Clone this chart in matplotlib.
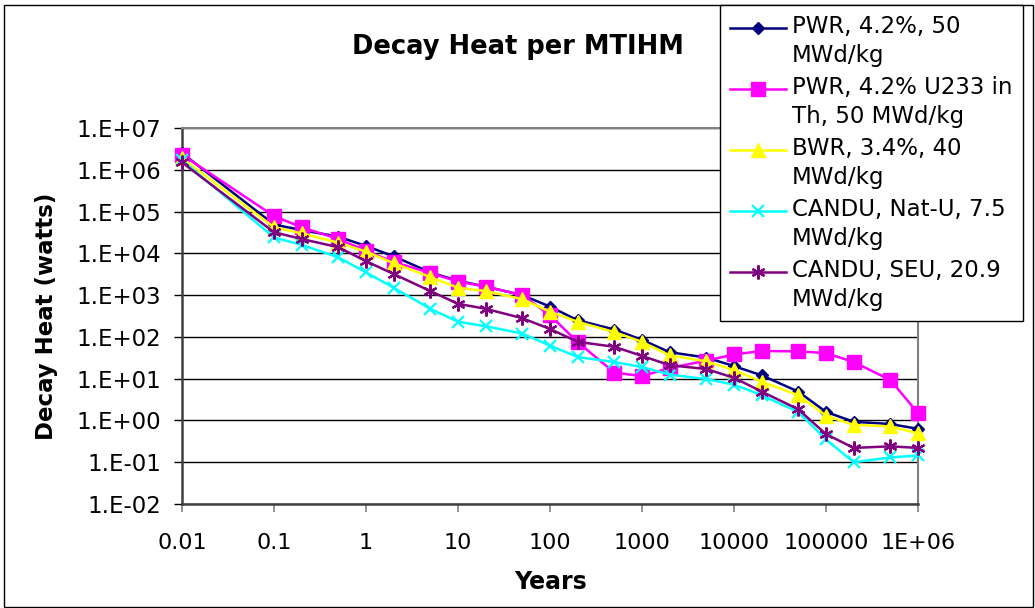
import matplotlib
matplotlib.use("Agg")
import matplotlib.pyplot as plt
from matplotlib.patches import Rectangle
from matplotlib.legend_handler import HandlerLine2D

# ---- data ----
years = [0.01, 0.1, 0.2, 0.5, 1, 2, 5, 10, 20, 50, 100, 200, 500, 1000,
         2000, 5000, 1e4, 2e4, 5e4, 1e5, 2e5, 5e5, 1e6]

pwr = [2.5e6, 4.9e4, 3.6e4, 2.5e4, 1.5e4, 8.5e3, 3.5e3, 2.2e3, 1.6e3, 1.0e3,
       5.3e2, 2.5e2, 1.5e2, 8.5e1, 4.3e1, 3.2e1, 2.0e1, 1.2e1, 4.9, 1.6,
       0.93, 0.82, 0.63]
pwr_th = [2.3e6, 7.8e4, 4.2e4, 2.2e4, 1.15e4, 6.2e3, 3.4e3, 2.1e3, 1.6e3, 1.0e3,
          3.3e2, 7.5e1, 1.4e1, 1.15e1, 1.8e1, 2.7e1, 3.8e1, 4.6e1, 4.5e1, 4.1e1,
          2.5e1, 9.3, 1.5]
bwr = [1.9e6, 4.2e4, 3.0e4, 1.8e4, 1.1e4, 5.8e3, 2.7e3, 1.5e3, 1.25e3, 8.0e2,
       4.0e2, 2.3e2, 1.3e2, 7.6e1, 3.6e1, 2.6e1, 1.6e1, 8.5, 4.0, 1.3,
       0.78, 0.72, 0.49]
candu_nat = [1.7e6, 2.4e4, 1.6e4, 8.0e3, 3.5e3, 1.5e3, 4.7e2, 2.3e2, 1.8e2, 1.2e2,
             6.2e1, 3.3e1, 2.5e1, 1.9e1, 1.25e1, 9.8, 7.2, 4.0, 1.6, 0.35,
             0.10, 0.13, 0.145]
candu_seu = [1.5e6, 3.2e4, 2.2e4, 1.4e4, 6.5e3, 3.2e3, 1.25e3, 6.2e2, 4.7e2, 2.8e2,
             1.55e2, 7.6e1, 5.8e1, 3.5e1, 2.1e1, 1.7e1, 1.05e1, 4.9, 1.85, 0.47,
             0.22, 0.24, 0.22]

labels = ["PWR, 4.2%, 50\nMWd/kg",
          "PWR, 4.2% U233 in\nTh, 50 MWd/kg",
          "BWR, 3.4%, 40\nMWd/kg",
          "CANDU, Nat-U, 7.5\nMWd/kg",
          "CANDU, SEU, 20.9\nMWd/kg"]

x_ticks = [0.01, 0.1, 1, 10, 100, 1000, 1e4, 1e5, 1e6]
x_tick_labels = ["0.01", "0.1", "1", "10", "100", "1000", "10000", "100000", "1E+06"]
y_ticks = [1e-2, 1e-1, 1e0, 1e1, 1e2, 1e3, 1e4, 1e5, 1e6, 1e7]
y_tick_labels = ["1.E-02", "1.E-01", "1.E+00", "1.E+01", "1.E+02",
                 "1.E+03", "1.E+04", "1.E+05", "1.E+06", "1.E+07"]

title = "Decay Heat per MTIHM"
xlabel = "Years"
ylabel = "Decay Heat (watts)"

# ---- figure ----
plt.rcParams['font.family'] = ['DejaVu Sans']
W, H = 1035, 608
fig = plt.figure(figsize=(W / 100, H / 100), dpi=100)
fig.patch.set_facecolor("white")

L, R, T, B = 182, 918, 128, 504
ax = fig.add_axes([L / W, 1 - B / H, (R - L) / W, (B - T) / H])

series = [
    (pwr, "#000080", dict(marker="D", ms=6)),
    (pwr_th, "#FF00FF", dict(marker="s", ms=9.5)),
    (bwr, "#FFFF00", dict(marker="^", ms=9.5)),
    (candu_nat, "#00FFFF", dict(marker="x", ms=9, mew=1.6)),
    (candu_seu, "#800080", dict(marker=(6, 2, 0), ms=10, mew=1.6)),
]
handles = []
for vals, col, mk in series:
    ln, = ax.plot(years, vals, color=col, lw=1.8, mfc=col, mec=col,
                  clip_on=False, zorder=3, **mk)
    handles.append(ln)

ax.set_xscale("log")
ax.set_yscale("log")
ax.set_xlim(0.01, 1e6)
ax.set_ylim(1e-2, 1e7)
ax.minorticks_off()
ax.set_xticks(x_ticks)
ax.set_xticklabels(x_tick_labels, fontsize=16)
ax.set_yticks(y_ticks)
ax.set_yticklabels(y_tick_labels, fontsize=16.5)
ax.minorticks_off()
ax.tick_params(axis="x", which="major", direction="out", length=6,
               width=1.2, color="#808080", pad=15)
ax.tick_params(axis="y", which="major", direction="out", length=6,
               width=1.0, color="black", pad=9)
for lab in ax.get_xticklabels():
    lab.set_fontsize(16)
for lab in ax.get_yticklabels():
    lab.set_fontsize(16.5)
ax.yaxis.grid(True, color="black", lw=1.0)
ax.set_axisbelow(True)

for s in ["top", "right"]:
    ax.spines[s].set_color("#808080")
    ax.spines[s].set_linewidth(1.5)
for s in ["left", "bottom"]:
    ax.spines[s].set_color("#404040")
    ax.spines[s].set_linewidth(1.8)

# titles
fig.text(518 / W, 1 - 47 / H, title, ha="center", va="center",
         fontsize=18.5, fontweight="bold")
fig.text(551 / W, 1 - 582 / H, xlabel, ha="center", va="center",
         fontsize=17, fontweight="bold")
fig.text(47 / W, 1 - 316 / H, ylabel, ha="center", va="center",
         rotation=90, fontsize=16.5, fontweight="bold")


class UpHandler(HandlerLine2D):
    def create_artists(self, legend, orig_handle, xdescent, ydescent,
                       width, height, fontsize, trans):
        return super().create_artists(legend, orig_handle, xdescent,
                                      ydescent - 2 * 10.0, width, height,
                                      fontsize, trans)


leg = fig.legend(handles, labels, loc="upper left",
                 bbox_to_anchor=(720 / W, 1 - 5 / H),
                 bbox_transform=fig.transFigure,
                 fontsize=16.5, frameon=True, fancybox=False, shadow=False,
                 borderpad=0.45, borderaxespad=0, handlelength=2.45,
                 handletextpad=0.25, labelspacing=0.42,
                 handler_map={h: UpHandler() for h in handles})
leg.get_frame().set_edgecolor("black")
leg.get_frame().set_linewidth(1.0)
leg.get_frame().set_alpha(1)
for t in leg.get_texts():
    t.set_linespacing(1.3)

# outer chart border
fig.patches.append(Rectangle((4 / W, 1 - 607 / H), (1033 - 4) / W, (607 - 5) / H,
                             transform=fig.transFigure, fill=False,
                             edgecolor="black", lw=1.0, zorder=0))

fig.savefig("out.png", dpi=100, facecolor="white")
